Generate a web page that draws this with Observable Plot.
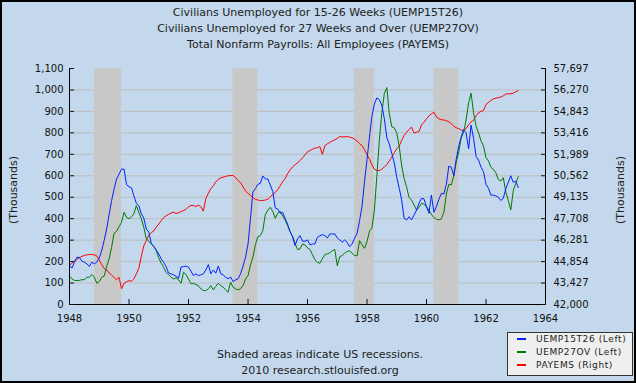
<!DOCTYPE html>
<html><head><meta charset="utf-8">
<script src="https://cdn.jsdelivr.net/npm/d3@7"></script>
<script src="https://cdn.jsdelivr.net/npm/@observablehq/plot@0.6"></script>
<style>
html,body{margin:0;padding:0;background:#fff;}
#wrap{position:relative;width:636px;height:383px;background:#c3d8ec;overflow:hidden;font-family:"DejaVu Sans",sans-serif;color:#222;}
#chart{position:absolute;left:0;top:0;}
#border{position:absolute;left:0;top:0;width:636px;height:383px;box-sizing:border-box;border:2px solid #000;pointer-events:none;}
.title{position:absolute;left:0;width:636px;top:5px;text-align:center;font-size:11px;line-height:16px;}
.footer{position:absolute;left:170px;width:300px;top:347px;text-align:center;font-size:11px;line-height:16px;}
.ylab{position:absolute;font-size:11px;white-space:nowrap;transform:translate(-50%,-50%) rotate(-90deg);}
#legend{position:absolute;left:507px;top:332px;width:126px;height:44px;box-sizing:border-box;border:1px solid #333;background:#efefef;}
.li{position:absolute;left:28px;font-size:9px;letter-spacing:0.6px;white-space:nowrap;line-height:12px;}
.sw{position:absolute;left:9px;width:9px;height:2px;}
</style></head><body>
<div id="wrap">
  <div id="chart"></div>
  <div class="title">Civilians Unemployed for 15-26 Weeks (UEMP15T26)<br>Civilians Unemployed for 27 Weeks and Over (UEMP27OV)<br>Total Nonfarm Payrolls: All Employees (PAYEMS)</div>
  <div class="footer">Shaded areas indicate US recessions.<br>2010 research.stlouisfed.org</div>
  <div class="ylab" style="left:13px;top:190px;">(Thousands)</div>
  <div class="ylab" style="left:620px;top:190px;">(Thousands)</div>
  <div id="legend"></div>
  <div id="border"></div>
</div>
<script>
// Monthly observations, Jan 1948 .. Feb 1963
const startMonth = "1948-01-01";
const uemp15t26 = [
181,170,197,220,220,202,197,190,177,197,190,197,
217,254,298,352,419,484,538,585,608,631,631,558,
549,543,507,471,461,422,403,352,337,285,270,254,
236,212,197,177,147,143,138,132,122,174,177,179,
174,155,135,143,135,138,143,161,186,143,161,146,
179,143,138,127,120,128,107,115,120,143,179,220,
282,406,523,540,560,565,599,585,585,557,526,450,
445,425,430,402,375,340,316,275,306,321,295,295,
301,278,282,282,313,320,326,321,310,329,329,329,
310,301,290,301,290,270,281,309,332,391,459,572,
676,785,875,934,963,955,929,867,778,748,704,661,
592,541,490,402,394,409,394,417,440,472,495,492,
456,425,510,430,456,490,518,515,560,645,640,600,
680,740,780,815,800,725,836,774,690,673,640,619,
560,541,510,510,506,500,485,495,540,570,600,570,
575,545];
const uemp27ov = [
132,119,112,112,112,116,115,127,127,140,127,99,
107,127,132,177,212,267,332,341,363,383,430,406,
400,409,422,461,430,399,360,306,295,282,271,251,
217,192,174,150,140,127,119,124,115,99,150,140,
119,96,99,93,88,73,65,65,73,88,68,84,
99,88,81,68,57,104,81,73,68,73,88,119,
135,186,220,278,316,321,344,419,440,453,434,402,
425,434,413,394,368,340,318,285,256,259,282,278,
264,256,233,208,197,192,213,233,236,241,251,256,
181,223,228,239,247,250,239,228,227,298,278,262,
293,344,355,440,596,766,890,983,1011,890,828,824,
800,735,650,588,549,499,487,464,440,453,472,468,
455,440,420,405,398,395,398,430,515,560,557,600,
665,712,775,805,860,940,985,893,831,800,762,738,
684,669,640,630,614,583,575,591,525,485,441,530,
565,596];
const payems = [
44594,44750,44880,45000,45120,45200,45260,45300,45326,45326,45300,45230,
44950,44650,44400,44300,44100,43950,43800,43650,43800,43042,43420,43520,
43580,43550,43700,44040,44400,45200,45900,46250,46600,46780,46900,47150,
47350,47580,47780,47900,48000,48080,48140,48050,48100,48180,48250,48330,
48500,48584,48584,48520,48600,48500,48210,49050,49400,49700,49900,50150,
50330,50420,50470,50520,50560,50580,50580,50450,50250,50100,49820,49550,
49400,49250,49120,49000,48950,48917,48917,48950,49000,49150,49320,49450,
49650,49900,50150,50380,50700,50950,51150,51300,51420,51577,51750,51950,
52150,52243,52330,52400,52430,52500,51977,52560,52688,52780,52880,52950,
53050,53174,53140,53150,53174,53130,53090,53000,52870,52700,52560,52300,
51950,51650,51300,51000,50913,50913,50990,51150,51300,51550,51800,52100,
52354,52550,52900,53250,53450,53650,53795,53400,53460,53500,53950,54125,
54350,54550,54680,54790,54480,54350,54290,54270,54238,54150,54030,53850,
53760,53690,53600,53573,53700,53950,54150,54250,54550,54750,54850,54903,
55300,55450,55570,55680,55720,55760,55800,55880,56000,56013,56013,56055,
56150,56233];

const leftTicks = [0,100,200,300,400,500,600,700,800,900,1000,1100];
const leftTickLabels = ["0","100","200","300","400","500","600","700","800","900","1,000","1,100"];
const rightTickLabels = ["42,000","43,427","44,854","46,281","47,708","49,135","50,562","51,989","53,416","54,843","56,270","57,697"];
const gridValues = [100,200,300,400,500,600,700,800,900,1000];
const yearTicks = ["1948","1950","1952","1954","1956","1958","1960","1962","1964"];
const recessionStart = ["1948-11-01","1953-07-01","1957-08-01","1960-04-01"];
const recessionEnd = ["1949-10-01","1954-05-01","1958-04-01","1961-02-01"];
const xDomain = ["1948-01-01","1964-01-01"];
const leftMax = 1100, rightMin = 42000, rightMax = 57697;

const months = d3.utcMonth.range(new Date(startMonth), new Date(Date.UTC(1963, 2, 1)));
const toLeft = v => (v - rightMin) / (rightMax - rightMin) * leftMax;
const s15 = months.map((d, i) => ({date: d, v: uemp15t26[i]}));
const s27 = months.map((d, i) => ({date: d, v: uemp27ov[i]}));
const sPay = months.map((d, i) => ({date: d, v: toLeft(payems[i])}));
const recessions = recessionStart.map((s, i) => ({start: new Date(s), end: new Date(recessionEnd[i])}));
const yearDates = yearTicks.map(y => new Date(y + "-01-01"));
const domain = xDomain.map(d => new Date(d));

const chart = Plot.plot({
  width: 636, height: 383,
  marginLeft: 69, marginRight: 91, marginTop: 68, marginBottom: 79,
  style: {background: "transparent", fontFamily: "DejaVu Sans", fontSize: "10px", color: "#111", overflow: "visible"},
  x: {type: "utc", domain: domain, label: null},
  y: {domain: [0, leftMax], label: null},
  marks: [
    Plot.ruleY(gridValues, {stroke: "#bdbdbd", strokeWidth: 1}),
    Plot.rect(recessions, {x1: "start", x2: "end", fill: "#c8c8c8"}),
    Plot.line(sPay, {x: "date", y: "v", stroke: "#ff0000", strokeWidth: 1}),
    Plot.line(s27, {x: "date", y: "v", stroke: "#007a00", strokeWidth: 1}),
    Plot.line(s15, {x: "date", y: "v", stroke: "#0022ff", strokeWidth: 1}),
    Plot.ruleX(domain, {stroke: "#000", strokeWidth: 1}),
    Plot.ruleY([0], {stroke: "#000", strokeWidth: 1}),
    Plot.axisY(leftTicks, {anchor: "left", tickSize: -5, tickPadding: 11, label: null,
      tickFormat: d => leftTickLabels[leftTicks.indexOf(d)]}),
    Plot.axisY(leftTicks, {anchor: "right", tickSize: -5, tickPadding: 13, label: null,
      tickFormat: d => rightTickLabels[leftTicks.indexOf(d)]}),
    Plot.axisX(yearDates, {anchor: "bottom", tickSize: -5, tickPadding: 15, label: null,
      tickFormat: d => String(d.getUTCFullYear())})
  ]
});
document.getElementById("chart").appendChild(chart);

const legendItems = [
  {label: "UEMP15T26 (Left)", color: "#0022ff"},
  {label: "UEMP27OV (Left)", color: "#007a00"},
  {label: "PAYEMS (Right)", color: "#ff0000"}
];
const lg = document.getElementById("legend");
legendItems.forEach((it, i) => {
  const sw = document.createElement("div");
  sw.className = "sw"; sw.style.background = it.color; sw.style.top = (5 + i * 13) + "px";
  lg.appendChild(sw);
  const t = document.createElement("div");
  t.className = "li"; t.textContent = it.label; t.style.top = (0 + i * 13) + "px";
  lg.appendChild(t);
});
</script>
</body></html>
